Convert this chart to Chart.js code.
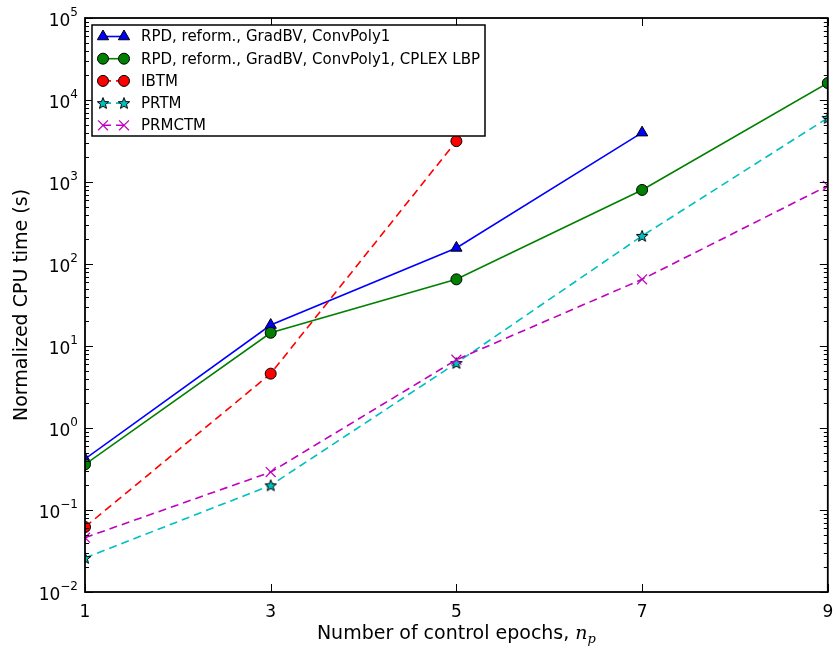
<!DOCTYPE html>
<html>
<head>
<meta charset="utf-8">
<script src="https://cdn.jsdelivr.net/npm/chart.js@4.4.1/dist/chart.umd.min.js"></script>
<style>
  body { margin: 0; background: #fff; }
  #wrap { width: 836px; height: 649px; }
</style>
</head>
<body>
<div id="wrap"><canvas id="cpuChart" width="836" height="649"></canvas></div>
<script>
// data
const epochs = [1, 3, 5, 7, 9];
const rpdTimes = [0.42, 18, 157, 4000];
const rpdLbpTimes = [0.36, 14.5, 65, 800, 16100];
const ibtmTimes = [0.062, 4.6, 3150];
const prtmTimes = [0.026, 0.2, 6.2, 220, 6050];
const prmctmTimes = [0.046, 0.29, 6.8, 65, 900];
const seriesNames = [
  'RPD, reform., GradBV, ConvPoly1',
  'RPD, reform., GradBV, ConvPoly1, CPLEX LBP',
  'IBTM',
  'PRTM',
  'PRMCTM'
];
const xTicks = [1, 3, 5, 7, 9];
const yTickExps = [-2, -1, 0, 1, 2, 3, 4, 5];

const FONT = "'DejaVu Sans', sans-serif";

// filled star marker like matplotlib '*'
function makeStar(fill) {
  const c = document.createElement('canvas');
  c.width = 14; c.height = 14;
  const g = c.getContext('2d');
  g.beginPath();
  for (let i = 0; i < 10; i++) {
    const r = i % 2 === 0 ? 6 : 2.6;
    const a = -Math.PI / 2 + i * Math.PI / 5;
    const px = 7 + r * Math.cos(a), py = 7.5 + r * Math.sin(a);
    if (i === 0) g.moveTo(px, py); else g.lineTo(px, py);
  }
  g.closePath();
  g.fillStyle = fill;
  g.fill();
  g.lineWidth = 1;
  g.strokeStyle = '#000';
  g.stroke();
  return c;
}
const starImg = makeStar('#00bfbf');

function pts(values) {
  return values.map((v, i) => ({ x: epochs[i], y: v }));
}

const datasets = [
  { label: seriesNames[0], data: pts(rpdTimes), borderColor: '#0000ff', pointBackgroundColor: '#0000ff',
    pointBorderColor: '#000', pointStyle: 'triangle', pointRadius: 6.5, pointBorderWidth: 1, borderDash: [] },
  { label: seriesNames[1], data: pts(rpdLbpTimes), borderColor: '#008000', pointBackgroundColor: '#008000',
    pointBorderColor: '#000', pointStyle: 'circle', pointRadius: 5.5, pointBorderWidth: 1, borderDash: [] },
  { label: seriesNames[2], data: pts(ibtmTimes), borderColor: '#ff0000', pointBackgroundColor: '#ff0000',
    pointBorderColor: '#000', pointStyle: 'circle', pointRadius: 5.5, pointBorderWidth: 1, borderDash: [8, 5] },
  { label: seriesNames[3], data: pts(prtmTimes), borderColor: '#00bfbf', pointBackgroundColor: '#00bfbf',
    pointBorderColor: '#000', pointStyle: starImg, pointRadius: 6, pointBorderWidth: 1, borderDash: [8, 5] },
  { label: seriesNames[4], data: pts(prmctmTimes), borderColor: '#bf00bf', pointBackgroundColor: '#bf00bf',
    pointBorderColor: '#bf00bf', pointStyle: 'crossRot', pointRadius: 7, pointBorderWidth: 1.2, borderDash: [8, 5] }
].map((d, i) => Object.assign(d, {
  borderWidth: 1.6, tension: 0, fill: false, clip: 0, order: 5 - i
}));

// frame, ticks, labels, legend drawn in matplotlib style
const axesPlugin = {
  id: 'axesPlugin',
  afterDraw(chart) {
    const ctx = chart.ctx;
    const a = chart.chartArea;
    const xs = chart.scales.x, ys = chart.scales.y;
    ctx.save();
    ctx.strokeStyle = '#000';
    ctx.fillStyle = '#000';

    // ticks
    ctx.lineWidth = 1;
    ctx.beginPath();
    xTicks.forEach(t => {
      const px = Math.round(xs.getPixelForValue(t)) + 0.5;
      ctx.moveTo(px, a.bottom); ctx.lineTo(px, a.bottom - 8);
      ctx.moveTo(px, a.top); ctx.lineTo(px, a.top + 8);
    });
    yTickExps.forEach(e => {
      const py = Math.round(ys.getPixelForValue(Math.pow(10, e))) + 0.5;
      ctx.moveTo(a.left, py); ctx.lineTo(a.left + 8, py);
      ctx.moveTo(a.right, py); ctx.lineTo(a.right - 8, py);
      if (e < 5) {
        for (let m = 2; m <= 9; m++) {
          const my = Math.round(ys.getPixelForValue(m * Math.pow(10, e))) + 0.5;
          ctx.moveTo(a.left, my); ctx.lineTo(a.left + 4, my);
          ctx.moveTo(a.right, my); ctx.lineTo(a.right - 4, my);
        }
      }
    });
    ctx.stroke();

    // frame
    ctx.lineWidth = 1.8;
    ctx.strokeRect(a.left, a.top, a.right - a.left, a.bottom - a.top);

    // x tick labels
    ctx.font = '17px ' + FONT;
    ctx.textAlign = 'center';
    ctx.textBaseline = 'alphabetic';
    xTicks.forEach(t => {
      ctx.fillText(String(t), xs.getPixelForValue(t), a.bottom + 25);
    });

    // y tick labels 10^e
    yTickExps.forEach(e => {
      const py = ys.getPixelForValue(Math.pow(10, e));
      const sup = e < 0 ? '\u2212' + Math.abs(e) : String(e);
      ctx.font = '12px ' + FONT;
      const supW = ctx.measureText(sup).width;
      ctx.textAlign = 'left';
      ctx.textBaseline = 'alphabetic';
      const right = a.left - 7;
      ctx.fillText(sup, right - supW, py - 2);
      ctx.font = '17px ' + FONT;
      ctx.textAlign = 'right';
      ctx.fillText('10', right - supW, py + 8);
    });

    // x axis title
    const part1 = 'Number of control epochs, ';
    ctx.font = '19px ' + FONT;
    const w1 = ctx.measureText(part1).width;
    ctx.font = 'italic 19px "DejaVu Serif", serif';
    const wn = ctx.measureText('n').width;
    ctx.font = 'italic 13px "DejaVu Serif", serif';
    const wp = ctx.measureText('p').width;
    let tx = (a.left + a.right) / 2 - (w1 + wn + wp) / 2;
    const ty = a.bottom + 47;
    ctx.textAlign = 'left';
    ctx.font = '19px ' + FONT;
    ctx.fillText(part1, tx, ty);
    tx += w1;
    ctx.font = 'italic 19px "DejaVu Serif", serif';
    ctx.fillText('n', tx, ty);
    tx += wn;
    ctx.font = 'italic 13px "DejaVu Serif", serif';
    ctx.fillText('p', tx, ty + 4);

    // y axis title
    ctx.save();
    ctx.translate(27, (a.top + a.bottom) / 2);
    ctx.rotate(-Math.PI / 2);
    ctx.font = '19px ' + FONT;
    ctx.textAlign = 'center';
    ctx.fillText('Normalized CPU time (s)', 0, 0);
    ctx.restore();

    // legend box
    const lx = 92, ly = 25, lw = 393, lh = 111;
    ctx.fillStyle = '#fff';
    ctx.fillRect(lx, ly, lw, lh);
    ctx.lineWidth = 1.5;
    ctx.strokeStyle = '#000';
    ctx.strokeRect(lx, ly, lw, lh);
    chart.data.datasets.forEach((d, i) => {
      const ry = ly + 11.5 + i * 22.2;
      ctx.save();
      ctx.strokeStyle = d.borderColor;
      ctx.lineWidth = d.borderWidth;
      ctx.setLineDash(d.borderDash);
      ctx.beginPath();
      ctx.moveTo(103, ry); ctx.lineTo(124, ry);
      ctx.stroke();
      ctx.setLineDash([]);
      ctx.fillStyle = d.pointBackgroundColor;
      ctx.strokeStyle = d.pointBorderColor;
      ctx.lineWidth = d.pointBorderWidth;
      [103, 124].forEach(mx => {
        Chart.helpers.drawPoint(ctx, { pointStyle: d.pointStyle, radius: d.pointRadius, rotation: 0, borderWidth: d.pointBorderWidth }, mx, ry);
      });
      ctx.restore();
      ctx.fillStyle = '#000';
      ctx.font = '15px ' + FONT;
      ctx.textAlign = 'left';
      ctx.textBaseline = 'middle';
      ctx.fillText(d.label, 141, ry + 1);
    });
    ctx.restore();
  }
};

new Chart(document.getElementById('cpuChart'), {
  type: 'line',
  data: { datasets },
  options: {
    responsive: false,
    animation: false,
    layout: { padding: { top: 18, right: 8, left: 0, bottom: 0 } },
    plugins: { legend: { display: false }, tooltip: { enabled: false } },
    scales: {
      x: {
        type: 'linear', min: 1, max: 9,
        grid: { display: false }, border: { display: false },
        ticks: { display: false },
        afterFit: s => { s.height = 57; }
      },
      y: {
        type: 'logarithmic', min: 0.01, max: 100000,
        grid: { display: false }, border: { display: false },
        ticks: { display: false },
        afterFit: s => { s.width = 85; }
      }
    }
  },
  plugins: [axesPlugin]
});
</script>
</body>
</html>
